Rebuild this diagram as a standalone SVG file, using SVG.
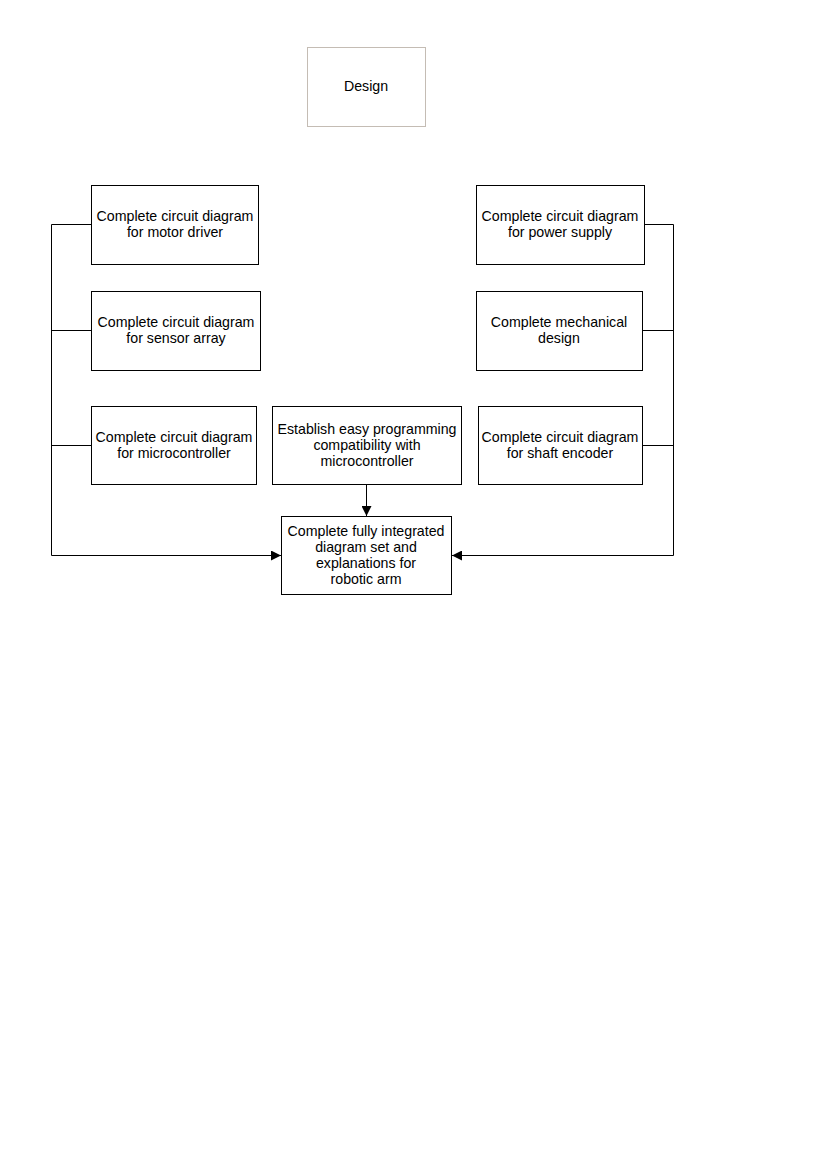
<svg xmlns="http://www.w3.org/2000/svg" width="827" height="1169" viewBox="0 0 827 1169">
<style>
.box{fill:#fff;stroke:#000;stroke-width:1}
.dbox{fill:#fff;stroke:#c4bcb4;stroke-width:1}
text{font-family:"Liberation Sans",Arial,sans-serif;font-size:14.2px;fill:#000;text-anchor:middle}
.conn{fill:none;stroke:#000;stroke-width:1}
</style>
<defs>
<marker id="arr" viewBox="0 0 10 10" refX="10" refY="5" markerWidth="10" markerHeight="10" markerUnits="userSpaceOnUse" orient="auto">
<path d="M0,0 L10,5 L0,10 z" fill="#000"/>
</marker>
</defs>
<rect x="0" y="0" width="827" height="1169" fill="#fff"/>
<g id="connectors">
<polyline class="conn" points="91.5,224.5 51.5,224.5 51.5,555.5 281,555.5" marker-end="url(#arr)"/>
<line class="conn" x1="51.5" y1="330.5" x2="91.5" y2="330.5"/>
<line class="conn" x1="51.5" y1="445.5" x2="91.5" y2="445.5"/>
<polyline class="conn" points="644.5,224.5 673.5,224.5 673.5,555.5 452,555.5" marker-end="url(#arr)"/>
<line class="conn" x1="642.5" y1="330.5" x2="673.5" y2="330.5"/>
<line class="conn" x1="642.5" y1="445.5" x2="673.5" y2="445.5"/>
<line class="conn" x1="366.5" y1="484.5" x2="366.5" y2="516" marker-end="url(#arr)"/>
</g>
<g id="design">
<rect class="dbox" x="307.5" y="47.5" width="118" height="79"/>
<text x="366" y="91">Design</text>
</g>
<g id="motor-driver">
<rect class="box" x="91.5" y="185.5" width="167" height="79"/>
<text x="175" y="221">Complete circuit diagram</text>
<text x="175" y="237">for motor driver</text>
</g>
<g id="sensor-array">
<rect class="box" x="91.5" y="291.5" width="169" height="79"/>
<text x="176" y="327">Complete circuit diagram</text>
<text x="176" y="343">for sensor array</text>
</g>
<g id="microcontroller">
<rect class="box" x="91.5" y="406.5" width="165" height="78"/>
<text x="174" y="442">Complete circuit diagram</text>
<text x="174" y="458">for microcontroller</text>
</g>
<g id="programming">
<rect class="box" x="272.5" y="406.5" width="189" height="78"/>
<text x="367" y="434">Establish easy programming</text>
<text x="367" y="450">compatibility with</text>
<text x="367" y="466">microcontroller</text>
</g>
<g id="integrated">
<rect class="box" x="281.5" y="516.5" width="170" height="78"/>
<text x="366" y="536">Complete fully integrated</text>
<text x="366" y="552">diagram set and</text>
<text x="366" y="568">explanations for</text>
<text x="366" y="584">robotic arm</text>
</g>
<g id="power-supply">
<rect class="box" x="476.5" y="185.5" width="168" height="79"/>
<text x="560" y="221">Complete circuit diagram</text>
<text x="560" y="237">for power supply</text>
</g>
<g id="mechanical">
<rect class="box" x="476.5" y="291.5" width="166" height="79"/>
<text x="559" y="327">Complete mechanical</text>
<text x="559" y="343">design</text>
</g>
<g id="shaft-encoder">
<rect class="box" x="478.5" y="406.5" width="164" height="78"/>
<text x="560" y="442">Complete circuit diagram</text>
<text x="560" y="458">for shaft encoder</text>
</g>
</svg>
